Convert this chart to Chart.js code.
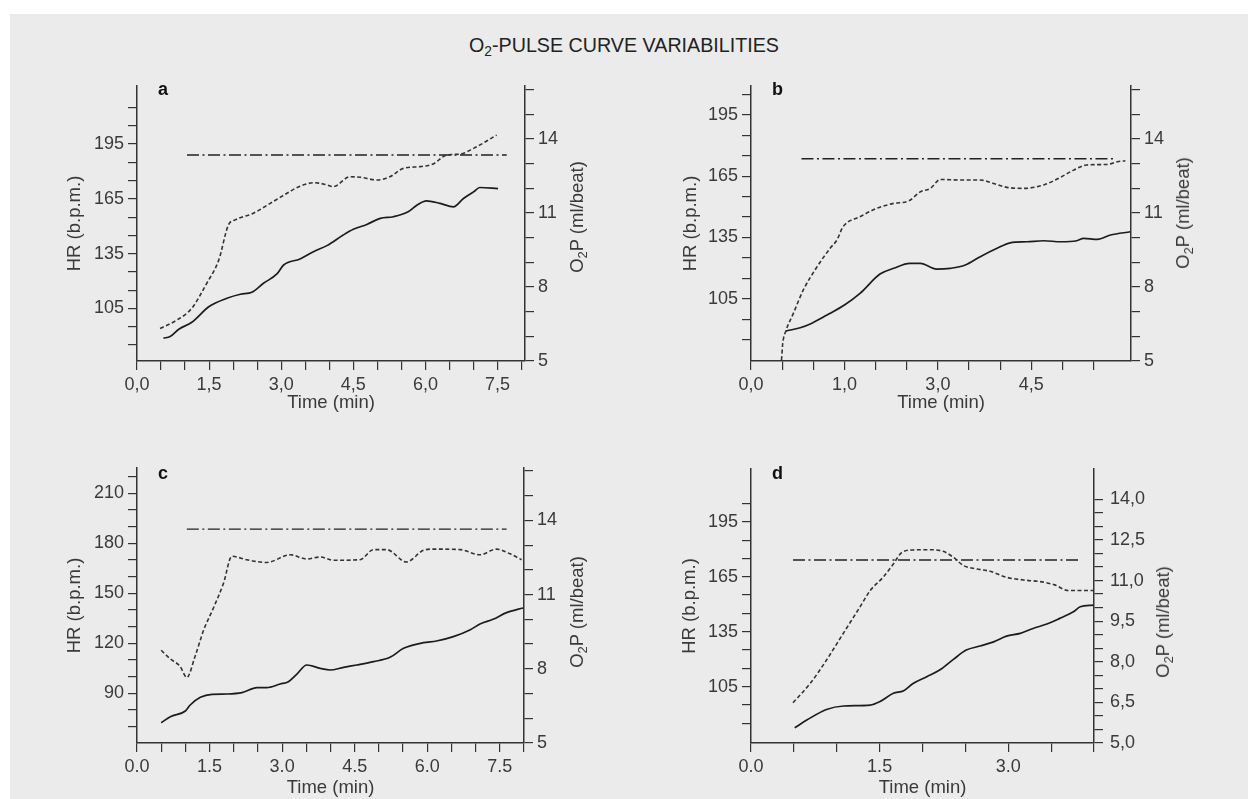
<!DOCTYPE html>
<html lang="en">
<head>
<meta charset="UTF-8">
<title>O2-Pulse curve variabilities</title>
<script src="https://cdn.jsdelivr.net/npm/chart.js"></script>
<style>
  html, body { margin: 0; padding: 0; background: #fff; }
  body { width: 1248px; height: 799px; position: relative; overflow: hidden;
         font-family: "Liberation Sans", Arial, sans-serif; color: #3a3a3a; }
  #bg { position: absolute; left: 10px; top: 14px; right: 0; bottom: 0; background: #ebebeb; }
  #title { position: absolute; left: 0; top: 33px; width: 1248px; margin: 0; text-align: center;
           font-weight: normal; font-size: 19.7px; line-height: 24px; color: #222; }
  sub { font-size: 0.7em; vertical-align: -0.3em; line-height: 0; }
  canvas { position: absolute; }
  .letter { position: absolute; font-weight: bold; font-size: 18px; line-height: 18px; color: #111; }
  .rt { position: absolute; white-space: nowrap; font-size: 18.5px; line-height: 20px; color: #3a3a3a;
        transform: translate(-50%, -50%) rotate(-90deg); }
</style>
</head>
<body>
<div id="bg"></div>
<h1 id="title">O<sub>2</sub>-PULSE CURVE VARIABILITIES</h1>

<canvas id="ca" width="624" height="360" style="left:0;top:60px"></canvas>
<canvas id="cb" width="624" height="360" style="left:624px;top:60px"></canvas>
<canvas id="cc" width="624" height="359" style="left:0;top:440px"></canvas>
<canvas id="cd" width="624" height="359" style="left:624px;top:440px"></canvas>

<div class="letter" style="left:158px;top:80px">a</div>
<div class="letter" style="left:772px;top:80px">b</div>
<div class="letter" style="left:158px;top:464px">c</div>
<div class="letter" style="left:772px;top:464px">d</div>

<div class="rt" style="left:577px;top:217px">O<sub>2</sub>P (ml/beat)</div>
<div class="rt" style="left:1183px;top:213px">O<sub>2</sub>P (ml/beat)</div>
<div class="rt" style="left:577px;top:612px">O<sub>2</sub>P (ml/beat)</div>
<div class="rt" style="left:1163px;top:622px">O<sub>2</sub>P (ml/beat)</div>

<script>
// ---- panel a ----
const aHrT  = [0.55,0.69,0.87,1.14,1.5,1.87,2.15,2.39,2.63,2.91,3.05,3.39,3.67,3.95,4.29,4.5,4.78,5.06,5.33,5.64,5.82,6.02,6.3,6.58,6.79,7.0,7.13,7.51];
const aHr   = [88.8,89.7,93.7,97.5,106.1,110.6,112.8,113.9,118.8,123.9,128.8,132.1,136.1,139.4,145.2,148.3,151,154.3,155.2,157.9,161.5,163.9,162.5,160.6,165.2,168.8,171.2,170.6];
const aO2pT = [0.48,0.83,1.14,1.45,1.7,1.9,2.04,2.42,2.77,3.12,3.39,3.7,3.95,4.08,4.43,4.64,4.99,5.26,5.54,5.89,6.16,6.44,6.72,7.0,7.48];
const aO2p  = [6.32,6.66,7.14,8.15,9.09,10.51,10.72,10.99,11.39,11.8,12.09,12.23,12.14,12.07,12.47,12.45,12.34,12.47,12.81,12.88,12.99,13.35,13.39,13.62,14.16];
const aRef  = [1.04, 7.69, 13.35];
const aXVals = [0, 1.5, 3, 4.5, 6, 7.5];
const aXText = ['0,0', '1,5', '3,0', '4,5', '6,0', '7,5'];
const aHrVals = [105, 135, 165, 195];
const aO2Vals = [5, 8, 11, 14];

// ---- panel b ----
const bHrT  = [0.56,0.79,0.97,1.22,1.5,1.75,2.07,2.29,2.55,2.72,2.98,3.2,3.44,3.68,3.95,4.16,4.43,4.7,4.97,5.23,5.34,5.56,5.77,6.09];
const bHr   = [89.2,90.8,92.9,97,101.9,107.6,117.1,119.9,122.3,122.3,119.5,119.9,121.5,125.6,129.7,132.4,132.9,133.4,132.9,133.4,134.6,134.1,136.2,137.8];
const bO2pT = [0.49,0.51,0.56,0.68,0.84,1.06,1.27,1.38,1.48,1.75,2.02,2.29,2.53,2.72,2.88,3.04,3.36,3.68,3.89,4.11,4.38,4.7,4.97,5.18,5.39,5.72,5.88,6.01];
const bO2p  = [5.04,5.72,6.22,6.93,7.88,8.82,9.57,9.91,10.45,10.85,11.19,11.39,11.49,11.86,12.0,12.36,12.34,12.34,12.2,12.04,12.0,12.14,12.45,12.74,12.95,12.97,13.08,13.12];
const bRef  = [0.81, 5.82, 13.2];
const bXVals = [0, 1.5, 3, 4.5];
const bXText = ['0,0', '1,0', '3,0', '4,5'];
const bHrVals = [105, 135, 165, 195];
const bO2Vals = [5, 8, 11, 14];

// ---- panel c ----
const cHrT  = [0.5,0.69,1.0,1.1,1.31,1.55,1.86,2.17,2.48,2.68,2.96,3.13,3.3,3.51,3.79,3.99,4.27,4.54,4.89,5.23,5.51,5.92,6.19,6.54,6.88,7.09,7.36,7.64,7.98];
const cHr   = [72.4,76,79.4,83,87.6,89.4,89.6,90.4,93.4,93.4,95.6,97,101.4,107,105,104,105.6,107,109,111.6,117,120.4,121.4,124,128,131.6,134.4,138.4,141.2];
const cO2pT = [0.5,0.69,0.89,1.03,1.2,1.38,1.58,1.79,1.96,2.27,2.68,3.17,3.51,3.79,4.06,4.61,4.89,5.16,5.57,5.92,6.13,6.68,7.09,7.43,7.71,7.95];
const cO2p  = [8.75,8.4,8.1,7.65,8.5,9.58,10.46,11.47,12.55,12.41,12.3,12.61,12.44,12.52,12.39,12.41,12.82,12.82,12.32,12.79,12.84,12.82,12.61,12.84,12.65,12.41];
const cRef  = [1.03, 7.64, 13.65];
const cXVals = [0, 1.5, 3, 4.5, 6, 7.5];
const cXText = ['0.0', '1.5', '3.0', '4.5', '6.0', '7.5'];
const cHrVals = [90, 120, 150, 180, 210];
const cO2Vals = [5, 8, 11, 14];

// ---- panel d ----
const dHrT  = [0.51,0.65,0.88,1.08,1.39,1.5,1.66,1.78,1.89,2.05,2.2,2.36,2.51,2.67,2.83,2.98,3.14,3.29,3.45,3.6,3.76,3.84,3.99];
const dHr   = [82.6,86.8,92.6,94.5,95,96.8,101.4,102.8,106.8,110.5,114.1,119.9,125,127.2,129.5,132.6,134.1,136.8,139.2,142.3,145.9,148.6,149.5];
const dO2pT = [0.49,0.69,0.88,1.08,1.27,1.39,1.54,1.66,1.76,1.89,2.05,2.24,2.36,2.48,2.63,2.79,2.98,3.18,3.37,3.54,3.7,3.87,3.99];
const dO2p  = [6.49,7.2,8.06,9.07,10.02,10.63,11.12,11.61,12.04,12.13,12.14,12.08,11.86,11.55,11.43,11.34,11.12,11.02,10.96,10.84,10.63,10.63,10.63];
const dRef  = [0.49, 3.84, 11.76];
const dXVals = [0, 1.5, 3];
const dXText = ['0.0', '1.5', '3.0'];
const dHrVals = [105, 135, 165, 195];
const dO2Vals = [5, 6.5, 8, 9.5, 11, 12.5, 14];
const dO2Text = ['5,0', '6,5', '8,0', '9,5', '11,0', '12,5', '14,0'];

const FONT = '"Liberation Sans", Arial, sans-serif';
const INK = '#3a3a3a';

function zip(xs, ys) { return xs.map((x, i) => ({ x: x, y: ys[i] })); }
function steps(a, b, st) {
    const out = [];
    for (let v = a; v <= b + 1e-9; v += st) out.push(+v.toFixed(3));
    return out;
}
function labeller(vals, texts) {
    return function (v) {
        const i = vals.findIndex(u => Math.abs(u - v) < 1e-6);
        if (i < 0) return '';
        return texts ? texts[i] : String(vals[i]);
    };
}

function axis(extra) {
    const base = {
        type: 'linear',
        bounds: 'data',
        grid: { drawOnChartArea: false, drawTicks: true, tickLength: 9, color: '#333', lineWidth: 1.2 },
        border: { display: true, color: '#333', width: 1.5 }
    };
    return Object.assign(base, extra);
}

function makePanel(id, p) {
    new Chart(document.getElementById(id), {
        type: 'line',
        data: {
            datasets: [
                { data: zip(p.hrT, p.hr), yAxisID: 'yL', borderColor: '#1c1c1c', borderWidth: 1.7,
                  pointRadius: 0, cubicInterpolationMode: 'monotone' },
                { data: zip(p.o2T, p.o2), yAxisID: 'yR', borderColor: '#333', borderWidth: 1.6,
                  borderDash: [4, 2.5], pointRadius: 0, cubicInterpolationMode: 'monotone' },
                { data: [{ x: p.ref[0], y: p.ref[2] }, { x: p.ref[1], y: p.ref[2] }], yAxisID: 'yR',
                  borderColor: '#222', borderWidth: 1.4, borderDash: [12, 3.5, 2, 3.5], pointRadius: 0 }
            ]
        },
        options: {
            responsive: false,
            animation: false,
            events: [],
            layout: { padding: { top: p.padTop, left: 0, right: 0, bottom: 0 } },
            plugins: { legend: { display: false }, tooltip: { enabled: false } },
            scales: {
                x: axis({
                    position: 'bottom', min: 0, max: p.xMax,
                    afterBuildTicks: s => { s.ticks = steps(0, p.xMinorEnd, 0.5).map(v => ({ value: v })); },
                    afterFit: s => { s.height = p.xH; },
                    ticks: { color: INK, font: { family: FONT, size: 18 }, padding: 4, autoSkip: false,
                             maxRotation: 0, minRotation: 0, callback: labeller(p.xVals, p.xText) },
                    title: { display: true, text: 'Time (min)', color: INK, font: { family: FONT, size: 18.5 },
                             padding: { top: 0, bottom: p.xTitlePad } }
                }),
                yL: axis({
                    position: 'left', min: p.lMin, max: p.lMax,
                    afterBuildTicks: s => { s.ticks = steps(p.lMinor[0], p.lMinor[1], p.lMinor[2]).map(v => ({ value: v })); },
                    afterFit: s => { s.width = p.lW; },
                    ticks: { color: INK, font: { family: FONT, size: 18 }, padding: 4, autoSkip: false,
                             callback: labeller(p.lVals) },
                    title: { display: true, text: 'HR (b.p.m.)', color: INK, font: { family: FONT, size: 18.5 },
                             padding: { top: p.lTitlePad, bottom: 0 } }
                }),
                yR: axis({
                    position: 'right', min: 5, max: p.rMax,
                    afterBuildTicks: s => { s.ticks = steps(p.rMinor[0], p.rMinor[1], p.rMinor[2]).map(v => ({ value: v })); },
                    afterFit: s => { s.width = p.rW; },
                    ticks: { color: INK, font: { family: FONT, size: 18 }, padding: p.rPad, autoSkip: false,
                             callback: labeller(p.rVals, p.rText) }
                })
            }
        }
    });
}

makePanel('ca', {
    hrT: aHrT, hr: aHr, o2T: aO2pT, o2: aO2p, ref: aRef,
    xVals: aXVals, xText: aXText, lVals: aHrVals, rVals: aO2Vals,
    padTop: 26, xH: 59, lW: 137, rW: 99,
    xMax: 8.07, xMinorEnd: 8.0, lMin: 76.3, lMax: 226.7, rMax: 16.15,
    lMinor: [85, 215, 10], rMinor: [5, 16, 1],
    lTitlePad: 64, xTitlePad: 6, rPad: 4
});
makePanel('cb', {
    hrT: bHrT, hr: bHr, o2T: bO2pT, o2: bO2p, ref: bRef,
    xVals: bXVals, xText: bXText, lVals: bHrVals, rVals: bO2Vals,
    padTop: 26, xH: 59, lW: 127, rW: 117,
    xMax: 6.1, xMinorEnd: 5.5, lMin: 74.5, lMax: 209.2, rMax: 16.15,
    lMinor: [85, 205, 10], rMinor: [5, 16, 1],
    lTitlePad: 56, xTitlePad: 6, rPad: 4
});
makePanel('cc', {
    hrT: cHrT, hr: cHr, o2T: cO2pT, o2: cO2p, ref: cRef,
    xVals: cXVals, xText: cXText, lVals: cHrVals, rVals: cO2Vals,
    padTop: 28, xH: 56, lW: 137, rW: 100,
    xMax: 8.0, xMinorEnd: 8.0, lMin: 60.2, lMax: 225.2, rMax: 16.12,
    lMinor: [70, 220, 10], rMinor: [5, 16, 1],
    lTitlePad: 64, xTitlePad: 0, rPad: 4
});
makePanel('cd', {
    hrT: dHrT, hr: dHr, o2T: dO2pT, o2: dO2p, ref: dRef,
    xVals: dXVals, xText: dXText, lVals: dHrVals, rVals: dO2Vals, rText: dO2Text,
    padTop: 29, xH: 56, lW: 127, rW: 154,
    xMax: 4.0, xMinorEnd: 4.0, lMin: 74.3, lMax: 223.8, rMax: 15.12,
    lMinor: [85, 205, 10], rMinor: [5, 14, 0.5],
    lTitlePad: 55, xTitlePad: 0, rPad: 7
});
</script>
</body>
</html>
